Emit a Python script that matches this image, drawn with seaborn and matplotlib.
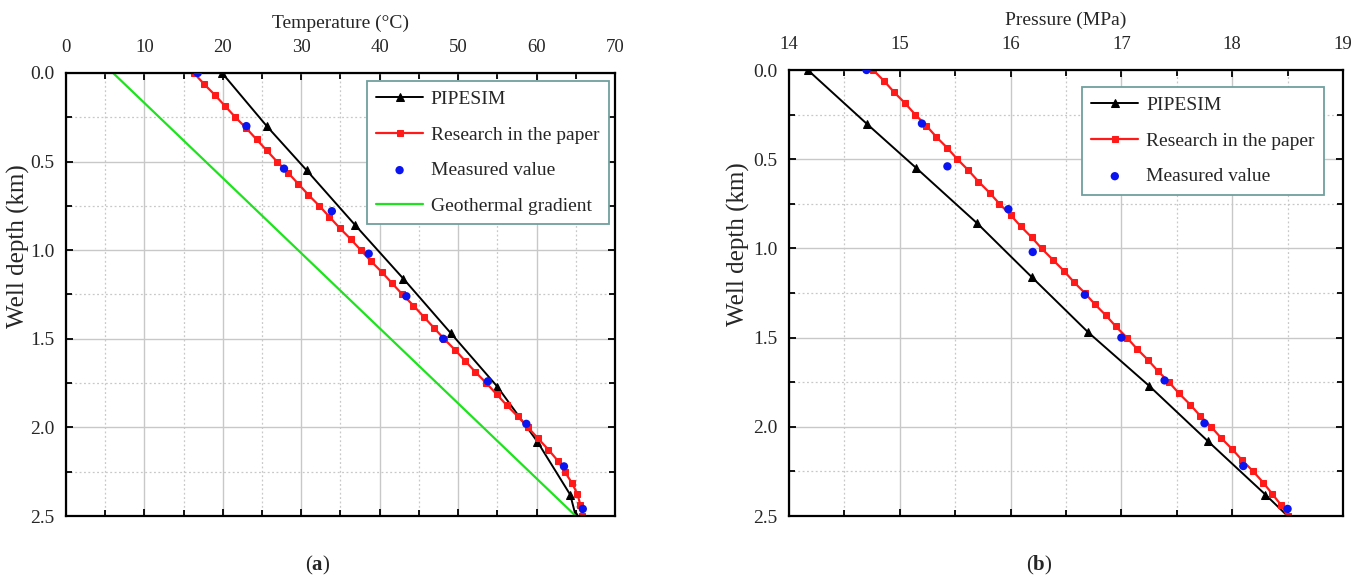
import matplotlib
matplotlib.use("Agg")
import matplotlib.pyplot as plt
from matplotlib.ticker import MultipleLocator
import seaborn as sns
import pandas as pd

# ---- data ----
# research model (one point every 0.0625 km)
model_depth = [0.0, 0.0625, 0.125, 0.1875, 0.25, 0.3125, 0.375, 0.4375, 0.5, 0.5625,
               0.625, 0.6875, 0.75, 0.8125, 0.875, 0.9375, 1.0, 1.0625, 1.125, 1.1875,
               1.25, 1.3125, 1.375, 1.4375, 1.5, 1.5625, 1.625, 1.6875, 1.75, 1.8125,
               1.875, 1.9375, 2.0, 2.0625, 2.125, 2.1875, 2.25, 2.3125, 2.375, 2.4375, 2.5]
model_temp = [16.3, 17.6, 19.0, 20.3, 21.6, 23.0, 24.3, 25.6, 26.9, 28.3,
              29.6, 30.9, 32.3, 33.6, 34.9, 36.3, 37.6, 38.9, 40.3, 41.6,
              42.9, 44.3, 45.6, 46.9, 48.2, 49.6, 50.9, 52.2, 53.6, 54.9,
              56.2, 57.6, 58.9, 60.2, 61.5, 62.7, 63.6, 64.5, 65.2, 65.6, 65.8]
model_pres = [14.76, 14.86, 14.95, 15.05, 15.14, 15.24, 15.33, 15.43, 15.52, 15.62,
              15.71, 15.81, 15.90, 16.00, 16.09, 16.19, 16.28, 16.38, 16.48, 16.57,
              16.67, 16.76, 16.86, 16.95, 17.05, 17.14, 17.24, 17.33, 17.43, 17.52,
              17.62, 17.71, 17.81, 17.90, 18.00, 18.09, 18.19, 18.28, 18.36, 18.44, 18.50]

# PIPESIM
pipesim_depth = [0.0, 0.3, 0.55, 0.86, 1.16, 1.47, 1.77, 2.08, 2.38, 2.5]
pipesim_temp = [19.9, 25.6, 30.7, 36.9, 43.0, 49.1, 55.0, 60.1, 64.3, 65.0]
pipesim_pres = [14.17, 14.70, 15.15, 15.70, 16.19, 16.70, 17.25, 17.78, 18.30, 18.50]

# measured
meas_depth = [0.0, 0.30, 0.54, 0.78, 1.02, 1.26, 1.50, 1.74, 1.98, 2.22, 2.46]
meas_temp = [16.8, 23.0, 27.8, 33.9, 38.6, 43.4, 48.1, 53.8, 58.7, 63.5, 65.9]
meas_pres = [14.70, 15.20, 15.43, 15.98, 16.20, 16.67, 17.00, 17.39, 17.75, 18.10, 18.50]

# geothermal gradient
geo_depth = [0.0, 2.5]
geo_temp = [6.0, 65.0]

model = pd.DataFrame({"depth": model_depth, "temp": model_temp, "pres": model_pres})
pipesim = pd.DataFrame({"depth": pipesim_depth, "temp": pipesim_temp, "pres": pipesim_pres})
meas = pd.DataFrame({"depth": meas_depth, "temp": meas_temp, "pres": meas_pres})
geo = pd.DataFrame({"depth": geo_depth, "temp": geo_temp})

sns.set_theme(style="ticks")
plt.rcParams["font.family"] = ["Liberation Serif", "DejaVu Serif"]
plt.rcParams["mathtext.fontset"] = "custom"
plt.rcParams["mathtext.rm"] = "Liberation Serif"
plt.rcParams["mathtext.bf"] = "Liberation Serif:bold"

fig = plt.figure(figsize=(13.69, 5.83), dpi=100)
ax1 = fig.add_axes([0.0482, 0.1149, 0.401, 0.760])
ax2 = fig.add_axes([0.5763, 0.1149, 0.4047, 0.765])


def style_axis(ax, xlim, xmajor, xminor, xlabel, ylabel_x):
    ax.set_xlim(*xlim)
    ax.set_ylim(2.5, 0.0)
    ax.xaxis.set_major_locator(MultipleLocator(xmajor))
    ax.xaxis.set_minor_locator(MultipleLocator(xminor))
    ax.yaxis.set_major_locator(MultipleLocator(0.5))
    ax.yaxis.set_minor_locator(MultipleLocator(0.25))
    ax.xaxis.tick_top()
    ax.xaxis.set_label_position("top")
    ax.yaxis.set_major_formatter(matplotlib.ticker.FormatStrFormatter("%.1f"))
    ax.tick_params(which="both", direction="in", top=True, bottom=True, left=True, right=True,
                   labeltop=True, labelbottom=False, color="black", width=1.3)
    ax.tick_params(which="major", length=5)
    ax.tick_params(which="minor", length=4)
    ax.tick_params(axis="x", labelsize=13.5, pad=12)
    ax.tick_params(axis="y", labelsize=14, pad=8)
    ax.grid(which="major", color="#c8c8c8", lw=1.0, ls="-")
    ax.grid(which="minor", color="#c8c8c8", lw=0.9, ls=(0, (1.5, 2)))
    ax.set_axisbelow(True)
    for s in ax.spines.values():
        s.set_visible(True)
        s.set_linewidth(1.6)
        s.set_color("black")
    ax.set_xlabel(xlabel, fontsize=14, labelpad=8)
    ax.set_ylabel("Well depth (km)", fontsize=18)
    ax.yaxis.set_label_coords(ylabel_x, 0.61)


legend_kw = dict(loc="upper right", fontsize=14, frameon=True, fancybox=False,
                 edgecolor="#6f9f9f", framealpha=1, borderaxespad=0,
                 handlelength=2.4, labelspacing=0.92, borderpad=0.5, handletextpad=0.4)

# ---- (a) temperature ----
sns.lineplot(data=pipesim, x="temp", y="depth", sort=False, estimator=None, ax=ax1,
             color="black", lw=1.4, marker="^", markersize=6, markeredgecolor="black",
             label="PIPESIM")
sns.lineplot(data=model, x="temp", y="depth", sort=False, estimator=None, ax=ax1,
             color="#ff1a1a", lw=1.6, marker="s", markersize=4.5, markeredgecolor="#ff1a1a",
             label="Research in the paper")
sns.scatterplot(data=meas, x="temp", y="depth", ax=ax1, color="#0a14f0", s=36,
                edgecolor="none", label="Measured value", zorder=5)
sns.lineplot(data=geo, x="temp", y="depth", sort=False, estimator=None, ax=ax1,
             color="#1ee21e", lw=1.6, label="Geothermal gradient")
style_axis(ax1, (0, 70), 10, 5, "Temperature (°C)", -0.066)
leg1 = ax1.legend(bbox_to_anchor=(0.989, 0.982), **legend_kw)
leg1.get_frame().set_linewidth(1.3)

# ---- (b) pressure ----
sns.lineplot(data=pipesim, x="pres", y="depth", sort=False, estimator=None, ax=ax2,
             color="black", lw=1.4, marker="^", markersize=6, markeredgecolor="black",
             label="PIPESIM")
sns.lineplot(data=model, x="pres", y="depth", sort=False, estimator=None, ax=ax2,
             color="#ff1a1a", lw=1.6, marker="s", markersize=4.5, markeredgecolor="#ff1a1a",
             label="Research in the paper")
sns.scatterplot(data=meas, x="pres", y="depth", ax=ax2, color="#0a14f0", s=36,
                edgecolor="none", label="Measured value", zorder=5)
style_axis(ax2, (14, 19), 1, 0.5, "Pressure (MPa)", -0.07)
leg2 = ax2.legend(bbox_to_anchor=(0.966, 0.962), **legend_kw)
leg2.get_frame().set_linewidth(1.3)

fig.text(318 / 1369, 1 - 565 / 583, r"($\mathbf{a}$)", ha="center", va="center", fontsize=15)
fig.text(1039 / 1369, 1 - 565 / 583, r"($\mathbf{b}$)", ha="center", va="center", fontsize=15)

fig.savefig("out.png", dpi=100)
